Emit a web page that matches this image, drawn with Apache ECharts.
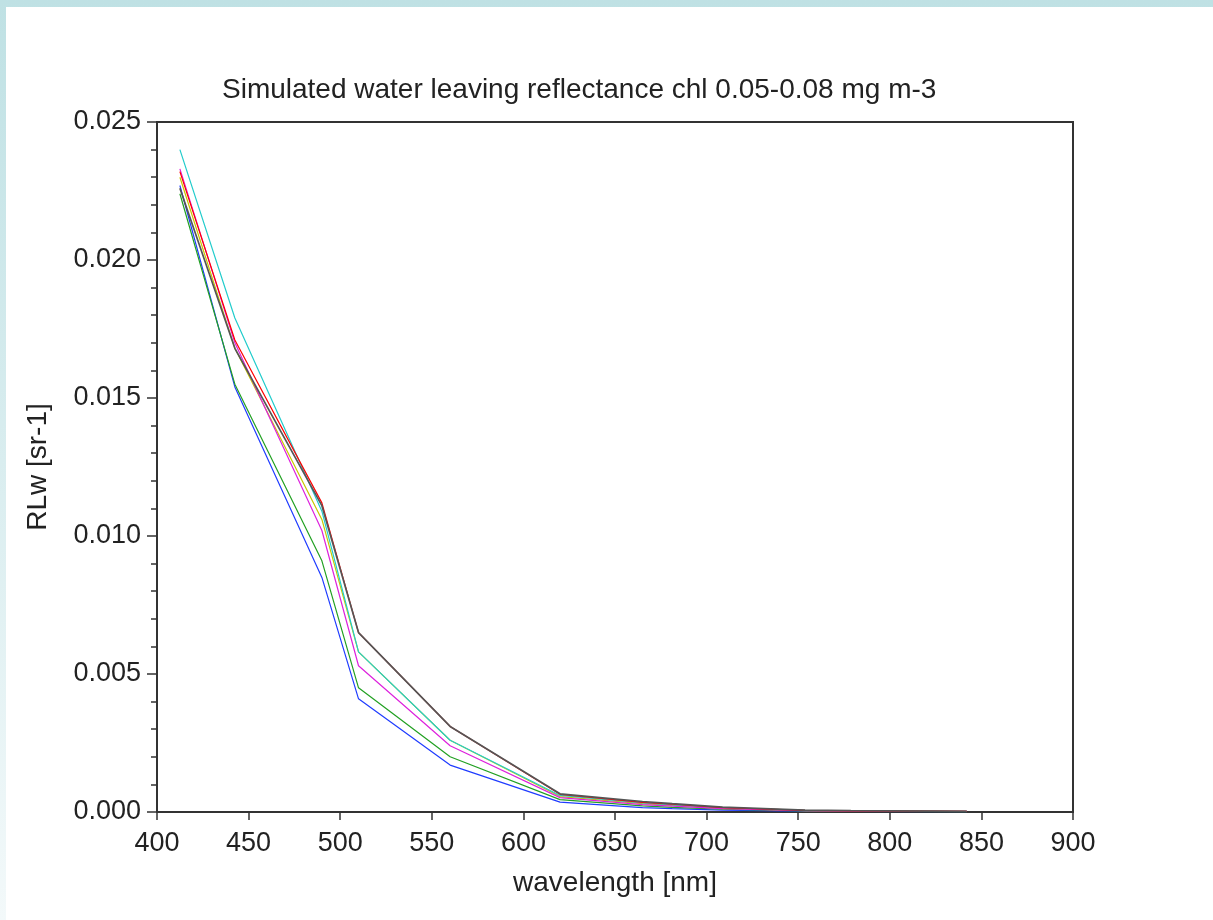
<!DOCTYPE html>
<html>
<head>
<meta charset="utf-8">
<title>Simulated water leaving reflectance</title>
<script src="https://cdn.jsdelivr.net/npm/echarts@6/dist/echarts.min.js"></script>
<style>
    html, body { margin: 0; padding: 0; }
    body {
        width: 1213px; height: 920px; overflow: hidden;
        background: linear-gradient(to bottom, #bfe1e4, #f3f9fa);
    }
    #container {
        position: absolute; left: 6px; top: 7px;
        width: 1207px; height: 913px; background: #fff;
    }
</style>
</head>
<body>
<div id="container"></div>
<script>
// band centres [nm]
var wavelengths = [412.5, 442.5, 490, 510, 560, 620, 665, 681.25, 708.75, 753.75, 778.75, 842];

// RLw [sr-1] per simulated spectrum
var rlwBlack   = [0.0226, 0.0168, 0.0111, 0.0065, 0.0031, 0.00066, 0.00038, 0.00030, 0.00018, 0.00007, 0.00005, 0.00002];
var rlwBlue    = [0.0227, 0.0154, 0.0085, 0.0041, 0.0017, 0.00036, 0.00016, 0.00012, 0.00007, 0.00003, 0.00002, 0.00001];
var rlwGreen   = [0.0224, 0.0155, 0.0091, 0.0045, 0.0020, 0.00045, 0.00022, 0.00017, 0.00010, 0.00004, 0.00003, 0.00001];
var rlwCyan    = [0.0240, 0.0179, 0.0109, 0.0058, 0.0026, 0.00060, 0.00033, 0.00026, 0.00015, 0.00006, 0.00004, 0.00002];
var rlwRed     = [0.0232, 0.0171, 0.0112, 0.0065, 0.0031, 0.00064, 0.00035, 0.00028, 0.00016, 0.00006, 0.00004, 0.00002];
var rlwMagenta = [0.0233, 0.0170, 0.0102, 0.0053, 0.0024, 0.00052, 0.00027, 0.00021, 0.00012, 0.00005, 0.00003, 0.00002];
var rlwYellow  = [0.0230, 0.0168, 0.0106, 0.0058, 0.0026, 0.00056, 0.00030, 0.00024, 0.00014, 0.00005, 0.00004, 0.00002];

var xTicks = [400, 450, 500, 550, 600, 650, 700, 750, 800, 850, 900];
var yTicks = [0, 0.005, 0.010, 0.015, 0.020, 0.025];

// drawing order: first is at the bottom
var spectra = [
    { name: 'blue', color: '#1f3cff', width: 1.2, data: rlwBlue },
    { name: 'green', color: '#22a022', width: 1.2, data: rlwGreen },
    { name: 'yellow', color: '#c8c800', width: 1.2, data: rlwYellow },
    { name: 'cyan', color: '#22cccc', width: 1.2, data: rlwCyan },
    { name: 'magenta', color: '#dd22dd', width: 1.2, data: rlwMagenta },
    { name: 'red', color: '#ff0000', width: 1.2, data: rlwRed },
    { name: 'black', color: '#555555', width: 1.7, data: rlwBlack }
];

function pairs(values) {
    var out = [];
    for (var i = 0; i < wavelengths.length; i++) {
        out.push([wavelengths[i], values[i]]);
    }
    return out;
}

var font = 'Liberation Sans';
var axisColor = '#333';

var chart = echarts.init(document.getElementById('container'));

var series = [];
for (var i = 0; i < spectra.length; i++) {
    series.push({
        name: spectra[i].name,
        type: 'line',
        data: pairs(spectra[i].data),
        showSymbol: false,
        silent: true,
        lineStyle: { color: spectra[i].color, width: spectra[i].width },
        itemStyle: { color: spectra[i].color }
    });
}

var option = {
    animation: false,
    title: {
        text: 'Simulated water leaving reflectance chl 0.05-0.08 mg m-3',
        left: 211,
        top: 64,
        textStyle: { fontFamily: font, fontSize: 28, fontWeight: 'normal', color: '#222' }
    },
    grid: {
        left: 151, right: 140, top: 115, bottom: 108,
        show: true, borderColor: axisColor, borderWidth: 2
    },
    xAxis: {
        type: 'value',
        min: xTicks[0],
        max: xTicks[xTicks.length - 1],
        interval: 50,
        name: 'wavelength [nm]',
        nameLocation: 'middle',
        nameGap: 57,
        nameTextStyle: { fontFamily: font, fontSize: 28, color: '#222' },
        axisLine: { onZero: false, lineStyle: { color: axisColor, width: 2 } },
        axisTick: { length: 8, lineStyle: { color: axisColor, width: 1.5 } },
        axisLabel: { margin: 18, fontFamily: font, fontSize: 27, color: '#222' },
        splitLine: { show: false }
    },
    yAxis: {
        type: 'value',
        min: yTicks[0],
        max: yTicks[yTicks.length - 1],
        interval: 0.005,
        name: 'RLw [sr-1]',
        nameLocation: 'middle',
        nameGap: 105,
        nameTextStyle: { fontFamily: font, fontSize: 28, color: '#222' },
        axisLine: { show: true, lineStyle: { color: axisColor, width: 2 } },
        axisTick: { show: true, length: 10, lineStyle: { color: axisColor, width: 1.5 } },
        minorTick: { show: true, splitNumber: 5, length: 6, lineStyle: { color: axisColor, width: 1.5 } },
        axisLabel: {
            margin: 16, fontFamily: font, fontSize: 27, color: '#222',
            formatter: function (v) { return v.toFixed(3); }
        },
        splitLine: { show: false }
    },
    series: series
};

chart.setOption(option);
</script>
</body>
</html>
